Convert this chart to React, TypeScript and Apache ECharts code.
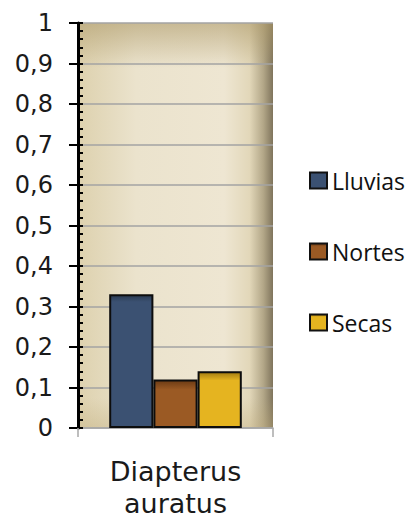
import React, { useEffect, useRef } from "react";
import * as echarts from "echarts";

const categories = ["Diapterus\nauratus"];
const seriesNames = ["Lluvias", "Nortes", "Secas"];
const lluvias = [0.33];
const nortes = [0.12];
const secas = [0.14];
const yTicks = { min: 0, max: 1, interval: 0.1 };

const barGradient = (top: string, mid: string, stop: number) =>
  new echarts.graphic.LinearGradient(0, 0, 0, 1, [
    { offset: 0, color: top },
    { offset: stop, color: mid },
    { offset: 1, color: mid },
  ]);

export default function App() {
  const ref = useRef<HTMLDivElement>(null);

  useEffect(() => {
    if (!ref.current) return;
    const chart = echarts.init(ref.current, undefined, { renderer: "svg" });

    const gridLeft = 78;
    const gridRight = 143;
    const gridTop = 23;
    const gridBottom = 92;
    const plotW = 416 - gridLeft - gridRight;
    const plotH = 520 - gridTop - gridBottom;

    const yLabel = (v: number) => (Math.abs(v - 1) < 1e-9 ? "1" : v === 0 ? "0" : v.toFixed(1).replace(".", ","));

    chart.setOption({
      animation: false,
      backgroundColor: "#ffffff",
      grid: {
        left: gridLeft,
        right: gridRight,
        top: gridTop,
        bottom: gridBottom,
        show: true,
        borderWidth: 0,
        backgroundColor: new echarts.graphic.LinearGradient(0, 0, 1, 0, [
          { offset: 0, color: "#ddd1ae" },
          { offset: 0.3, color: "#ebe3cd" },
          { offset: 0.75, color: "#eee6d2" },
          { offset: 0.88, color: "#e2d7b9" },
          { offset: 0.95, color: "#b3a788" },
          { offset: 1, color: "#7f745c" },
        ]),
      },
      graphic: [
        {
          type: "rect",
          z: 0,
          silent: true,
          shape: { x: gridLeft, y: gridTop, width: plotW, height: 45 },
          style: {
            fill: new echarts.graphic.LinearGradient(0, 0, 0, 1, [
              { offset: 0, color: "rgba(170,150,100,0.55)" },
              { offset: 1, color: "rgba(170,150,100,0)" },
            ]),
          },
        },
        {
          type: "rect",
          z: 0,
          silent: true,
          shape: { x: gridLeft, y: gridTop + plotH - 30, width: plotW, height: 30 },
          style: {
            fill: new echarts.graphic.LinearGradient(0, 0, 0, 1, [
              { offset: 0, color: "rgba(190,170,120,0)" },
              { offset: 1, color: "rgba(190,170,120,0.35)" },
            ]),
          },
        },
      ],
      legend: {
        orient: "vertical",
        left: 309,
        top: 169,
        padding: 0,
        itemWidth: 17,
        itemHeight: 16,
        itemGap: 48,
        itemStyle: { borderColor: "#111111", borderWidth: 2 },
        icon: "rect",
        data: seriesNames,
        textStyle: {
          fontFamily: "Open Sans",
          fontSize: 23,
          color: "#111111",
          lineHeight: 16,
          padding: [0, 0, 0, 0],
        },
      },
      xAxis: {
        type: "category",
        data: categories,
        axisLine: { show: true, lineStyle: { color: "#a8a8a8", width: 1.5 } },
        axisTick: { show: true, length: 9, lineStyle: { color: "#a8a8a8", width: 1.5 } },
        axisLabel: {
          margin: 27,
          fontFamily: "DejaVu Sans",
          fontSize: 27,
          lineHeight: 32,
          color: "#1a1a1a",
        },
      },
      yAxis: [
        {
          type: "value",
          min: yTicks.min,
          max: yTicks.max,
          interval: yTicks.interval,
          axisLine: { show: true, lineStyle: { color: "#000000", width: 3 } },
          axisTick: { show: true, length: 9, lineStyle: { color: "#000000", width: 2 } },
          splitLine: { show: true, lineStyle: { color: "#a3a3a3", width: 1.5 } },
          axisLabel: {
            margin: 25,
            formatter: yLabel,
            fontFamily: "DejaVu Sans",
            fontSize: 24,
            color: "#1a1a1a",
          },
        },
        {
          type: "value",
          position: "left",
          min: yTicks.min,
          max: yTicks.max,
          interval: yTicks.interval,
          axisLine: { show: false },
          axisTick: { show: true, inside: true, length: 5, lineStyle: { color: "#000000", width: 2 } },
          minorTick: { show: true, splitNumber: 5, length: 5, lineStyle: { color: "#000000", width: 2 } },
          splitLine: { show: false },
          axisLabel: { show: false },
        },
      ],
      series: [
        {
          name: seriesNames[0],
          type: "bar",
          data: lluvias,
          barGap: "0%",
          barCategoryGap: "32%",
          itemStyle: {
            color: barGradient("#2b3b52", "#3b5172", 0.05),
            borderColor: "#0d0d0d",
            borderWidth: 2,
          },
        },
        {
          name: seriesNames[1],
          type: "bar",
          data: nortes,
          itemStyle: {
            color: barGradient("#6b3a14", "#9b5a24", 0.2),
            borderColor: "#0d0d0d",
            borderWidth: 2,
          },
        },
        {
          name: seriesNames[2],
          type: "bar",
          data: secas,
          itemStyle: {
            color: barGradient("#a47c12", "#e5b420", 0.15),
            borderColor: "#0d0d0d",
            borderWidth: 2,
          },
        },
      ],
    });

    return () => chart.dispose();
  }, []);

  return (
    <div
      ref={ref}
      style={{ position: "fixed", left: 0, top: 0, width: 416, height: 520 }}
    />
  );
}
